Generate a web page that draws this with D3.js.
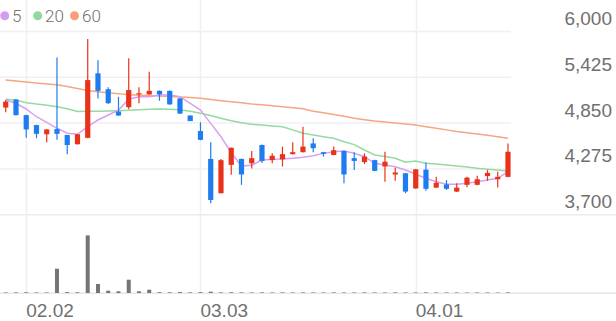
<!DOCTYPE html>
<html>
<head>
<meta charset="utf-8">
<script src="https://cdn.jsdelivr.net/npm/d3@7"></script>
<style>
  html, body { margin: 0; padding: 0; background: #fff; }
  svg { display: block; font-family: Roboto, "Noto Sans", sans-serif; }
  .tick-label { fill: #707070; font-size: 19px; font-weight: 300; }
  .legend-label { fill: #707070; font-size: 17px; font-weight: 300; }
</style>
</head>
<body>
<svg id="chart" width="616" height="321"></svg>
<script>
  var dates = ['01.29','01.30','02.02','02.03','02.04','02.05','02.06','02.09','02.10','02.11',
    '02.12','02.13','02.19','02.20','02.23','02.24','02.25','02.26','02.27','03.03',
    '03.04','03.05','03.06','03.09','03.10','03.11','03.12','03.13','03.16','03.17',
    '03.18','03.19','03.20','03.23','03.24','03.25','03.26','03.27','03.30','03.31',
    '04.01','04.02','04.03','04.06','04.07','04.08','04.09','04.10','04.13','04.14'];

  var opens = [5045,5145,4950,4825,4710,4775,4700,4585,4665,5475,
    5275,4995,5050,5210,5210,5255,5255,5160,4945,4750,
    4400,3970,4325,4400,4345,4575,4385,4395,4460,4485,
    4595,4485,4450,4500,4410,4360,4385,4305,4205,4220,
    4030,4265,4040,4080,3990,4075,4075,4185,4145,4175];
  var highs = [5140,5150,4955,4830,4775,5675,4705,4715,5905,5640,
    5300,5180,5665,5300,5495,5260,5260,5165,4950,4860,
    4610,4400,4545,4405,4500,4580,4470,4555,4610,4805,
    4660,4490,4555,4505,4485,4470,4390,4490,4290,4225,
    4275,4355,4175,4135,4095,4175,4190,4260,4240,4595];
  var lows = [4985,4945,4665,4660,4610,4640,4460,4580,4660,5160,
    5090,4940,5025,5100,5205,5130,5080,4965,4875,4635,
    3845,3965,4200,4075,4280,4350,4345,4305,4455,4480,
    4485,4430,4445,4095,4260,4335,4245,4115,4125,3970,
    4025,4000,4035,4010,3985,4045,4070,4125,4040,4170];
  var closes = [5120,4950,4770,4715,4770,4715,4575,4710,5390,5255,
    5100,4945,5265,5225,5255,5210,5085,4970,4875,4640,
    3885,4385,4540,4205,4410,4375,4440,4460,4485,4555,
    4535,4465,4510,4205,4375,4430,4250,4365,4230,3990,
    4270,4025,4100,4025,4040,4165,4145,4225,4175,4490];
  var volumes = [5000,6000,7000,5000,5000,243000,9000,7000,576000,90000,
    23000,17000,133000,17000,33000,8000,7000,9000,6000,8000,
    13000,6000,7000,6000,5000,6000,5000,6000,5000,6000,
    5000,5000,6000,5000,5000,6000,5000,5000,6000,5000,
    5000,6000,5000,5000,5000,4000,5000,5000,4000,6000];

  var ma5 = [5140,5099,5027,4930,4860,4785,4722,4709,4805,4889,
    4952,5014,5150,5181,5181,5203,5203,5181,5099,5014,
    4847,4679,4480,4310,4320,4387,4395,4399,4410,4421,
    4441,4470,4491,4500,4471,4428,4345,4324,4303,4261,
    4207,4157,4114,4082,4082,4094,4114,4136,4157,4240];
  var ma20 = [5150,5140,5106,5090,5075,5056,5030,4995,4998,5000,
    5003,5006,5010,5018,5024,5027,5025,5018,5000,4973,
    4945,4910,4880,4855,4835,4825,4815,4805,4765,4722,
    4700,4680,4659,4616,4580,4512,4449,4430,4408,4358,
    4374,4345,4335,4324,4310,4300,4282,4270,4260,4249];
  var ma60 = [5390,5378,5366,5354,5342,5330,5310,5285,5258,5245,
    5232,5220,5205,5200,5195,5190,5183,5177,5170,5162,
    5145,5130,5117,5104,5090,5080,5068,5056,5043,5030,
    5000,4980,4958,4935,4912,4893,4876,4865,4852,4840,
    4826,4805,4785,4765,4745,4728,4712,4696,4680,4660];

  var priceTicks = [3700, 4275, 4850, 5425, 6000];
  var dateTicks = ['02.02', '03.03', '04.01'];

  var svg = d3.select('#chart');

  var x = d3.scaleBand()
    .domain(dates)
    .range([0.6, 513.1]);
  var y = d3.scaleLinear()
    .domain([3700, 6000])
    .range([214.7, 31.5]);
  var yVol = d3.scaleLinear()
    .domain([0, 790000])
    .range([293, 214]);

  var cx = function(i) { return x(dates[i]) + x.bandwidth() / 2; };

  // grid
  svg.append('g').selectAll('line.vgrid')
    .data(dateTicks)
    .enter().append('line')
    .attr('x1', function(d) { return Math.round(x(d) + x.bandwidth() / 2) + 0.5; })
    .attr('x2', function(d) { return Math.round(x(d) + x.bandwidth() / 2) + 0.5; })
    .attr('y1', 0)
    .attr('y2', 293)
    .attr('stroke', '#f0f0f0')
    .attr('stroke-width', 1.5);

  svg.append('g').selectAll('line.hgrid')
    .data(priceTicks.slice(1))
    .enter().append('line')
    .attr('x1', 0)
    .attr('x2', 511)
    .attr('y1', function(d) { return y(d); })
    .attr('y2', function(d) { return y(d); })
    .attr('stroke', '#f0f0f0')
    .attr('stroke-width', 1.5);

  svg.append('line')
    .attr('x1', 0).attr('x2', 616)
    .attr('y1', y(3700)).attr('y2', y(3700))
    .attr('stroke', '#ececec').attr('stroke-width', 1.5);
  svg.append('line')
    .attr('x1', 0).attr('x2', 616)
    .attr('y1', 293.3).attr('y2', 293.3)
    .attr('stroke', '#e6e6e6').attr('stroke-width', 1.5);

  // volume
  svg.append('g').selectAll('rect')
    .data(volumes)
    .enter().append('rect')
    .attr('x', function(d, i) { return cx(i) - 2; })
    .attr('width', 4)
    .attr('y', function(d) { return yVol(d); })
    .attr('height', function(d) { return yVol(0) - yVol(d); })
    .attr('fill', '#757575');

  // moving averages
  var lineOf = function(values) {
    return d3.line()
      .x(function(d, i) { return cx(i); })
      .y(function(d) { return y(d); })(values);
  };
  var maSeries = [
    { values: ma60, color: '#f7a583' },
    { values: ma20, color: '#93dba0' },
    { values: ma5, color: '#d8a0f2' }
  ];
  svg.append('g').selectAll('path')
    .data(maSeries)
    .enter().append('path')
    .attr('d', function(d) { return lineOf(d.values); })
    .attr('fill', 'none')
    .attr('stroke', function(d) { return d.color; })
    .attr('stroke-width', 1.5);

  // candles
  var colorOf = function(i) { return closes[i] >= opens[i] ? '#e8331a' : '#1e7cf0'; };
  var candles = svg.append('g').selectAll('g')
    .data(dates)
    .enter().append('g');

  candles.append('line')
    .attr('x1', function(d, i) { return cx(i); })
    .attr('x2', function(d, i) { return cx(i); })
    .attr('y1', function(d, i) { return y(highs[i]); })
    .attr('y2', function(d, i) { return y(lows[i]); })
    .attr('stroke', function(d, i) { return colorOf(i); })
    .attr('stroke-width', 1.2);

  candles.append('rect')
    .attr('x', function(d, i) { return cx(i) - 2.6; })
    .attr('width', 5.2)
    .attr('y', function(d, i) { return y(Math.max(opens[i], closes[i])); })
    .attr('height', function(d, i) {
      return Math.max(1.2, Math.abs(y(opens[i]) - y(closes[i])));
    })
    .attr('fill', function(d, i) { return colorOf(i); });

  // axes
  var yAxis = svg.append('g')
    .attr('transform', 'translate(612,0)')
    .call(d3.axisLeft(y).tickValues(priceTicks).tickSize(0).tickPadding(0)
      .tickFormat(d3.format(',')));
  yAxis.select('.domain').remove();
  yAxis.selectAll('text')
    .attr('class', 'tick-label')
    .attr('dy', -7)
    .attr('font-family', null)
    .attr('font-size', null)
    .attr('fill', null);

  var xAxis = svg.append('g')
    .attr('transform', 'translate(0,293)')
    .call(d3.axisBottom(x).tickValues(dateTicks).tickSize(0).tickPadding(0));
  xAxis.select('.domain').remove();
  xAxis.selectAll('text')
    .attr('class', 'tick-label')
    .attr('text-anchor', 'start')
    .attr('x', 0)
    .attr('y', 0)
    .attr('dy', 23.5)
    .attr('font-family', null)
    .attr('font-size', null)
    .attr('fill', null);

  // legend
  var legend = [
    { label: '5', color: '#d69cf0', cx: 4.7, tx: 12 },
    { label: '20', color: '#8fd9a0', cx: 37.7, tx: 45 },
    { label: '60', color: '#f5a07a', cx: 74.5, tx: 82 }
  ];
  var items = svg.append('g').selectAll('g')
    .data(legend)
    .enter().append('g');
  items.append('circle')
    .attr('cx', function(d) { return d.cx; })
    .attr('cy', 15.7)
    .attr('r', 4.5)
    .attr('fill', function(d) { return d.color; });
  items.append('text')
    .attr('class', 'legend-label')
    .attr('x', function(d) { return d.tx; })
    .attr('y', 21.7)
    .text(function(d) { return d.label; });
</script>
</body>
</html>
